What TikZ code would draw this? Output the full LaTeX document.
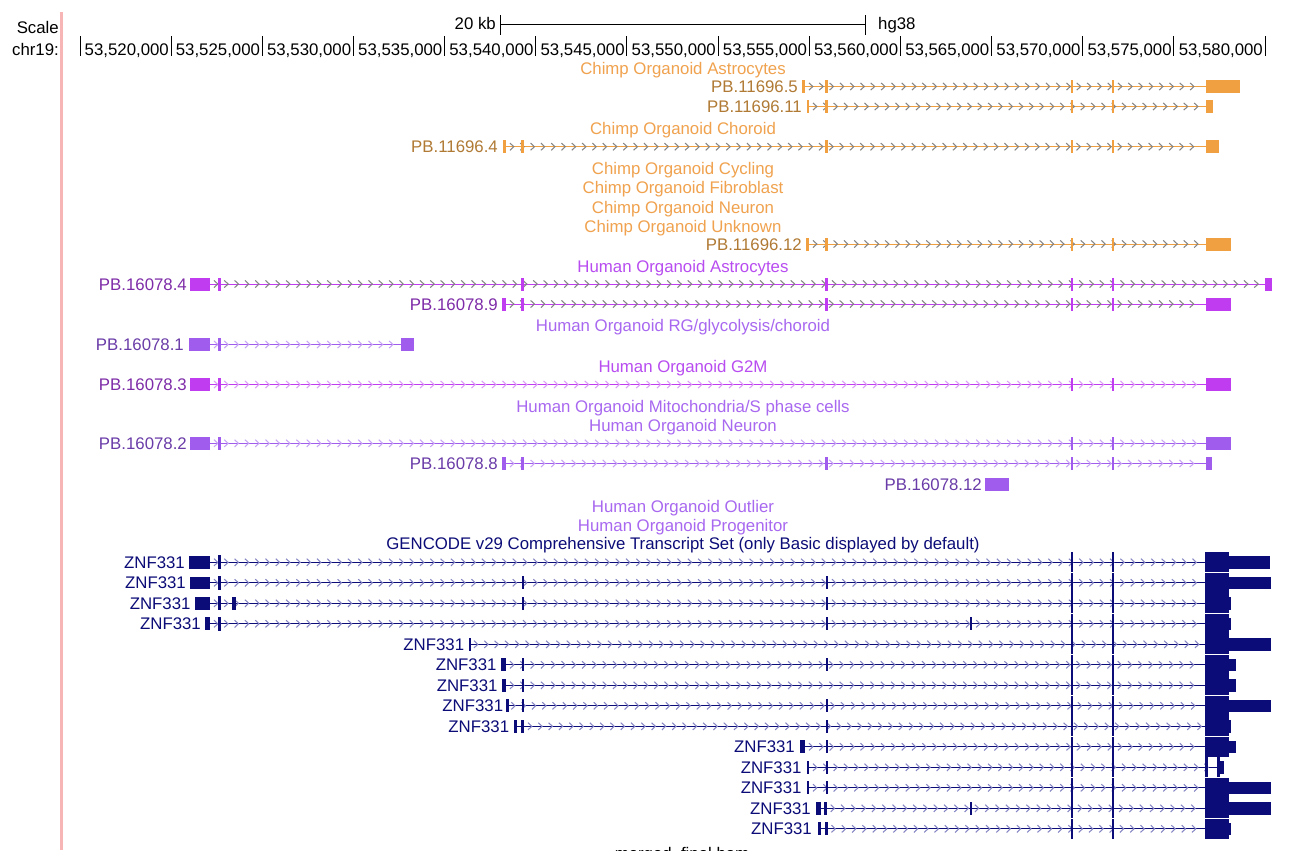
\documentclass[tikz,border=0pt]{standalone}
\usepackage{fontspec}
\setmainfont{Liberation Sans}
\definecolor{chimpT}{HTML}{F0A24E}
\definecolor{chimpF}{HTML}{F0A040}
\definecolor{chimpL}{HTML}{B07A34}
\definecolor{chevgray}{HTML}{858585}
\definecolor{humM}{HTML}{C03CF0}
\definecolor{humMT}{HTML}{B84CF0}
\definecolor{humML}{HTML}{7E2CA8}
\definecolor{humV}{HTML}{A05CEC}
\definecolor{humVT}{HTML}{A868F0}
\definecolor{humVL}{HTML}{6A3CA8}
\definecolor{chevM}{HTML}{DC9CF6}
\definecolor{chevV}{HTML}{C8A4F4}
\definecolor{gc}{HTML}{0C0C78}
\definecolor{chevG}{HTML}{8686C4}
\definecolor{pinkline}{HTML}{F7B5B5}
\newcommand\lblfont{\fontsize{16.8}{19}\selectfont}
% intron line with chevrons: y, x1, x2, line colour, chevron colour
\newcommand\txline[5]{%
  \draw[#4,line width=0.9pt] (#2,#1) -- (#3,#1);
  \pgfmathsetmacro\chA{#2+6}\pgfmathsetmacro\chB{#2+16.3}\pgfmathsetmacro\chC{#3-4}%
  \foreach \cx in {\chA,\chB,...,\chC}{\draw[#5,line width=1.05pt] (\cx-2,#1-3.6) -- (\cx+1.8,#1) -- (\cx-2,#1+3.6);}%
}
% exon box: y, x1, x2, half height, colour
\newcommand\exbox[5]{\fill[#5] (#2,#1-#4) rectangle (#3,#1+#4);}
% thin exon: y, x, half height, colour
\newcommand\extick[4]{\fill[#4] (#2-1.2,#1-#3) rectangle (#2+1.2,#1+#3);}
\begin{document}
\begin{tikzpicture}[x=1pt,y=-1pt,
  lbl/.style={font=\lblfont, inner sep=0pt, anchor=base east},
  ttl/.style={font=\lblfont, inner sep=0pt, anchor=base},
  rul/.style={black, line width=0.9pt}]
\useasboundingbox (0,0) rectangle (1294,860);
\fill[white] (0,0) rectangle (1294,860);
\begin{scope}
\clip (0,0) rectangle (1294,850.5);
% ---------- header ----------
\fill[pinkline] (60.2,12) rectangle (63.2,850);
\node[lbl] (scl) at (59,33) {Scale};
\node[lbl] (chr) at (59,55) {chr19:};
\coordinate (sbA) at (500,24);
\coordinate (sbB) at (865,24);
\draw[rul] (sbA) -- (sbB);
\draw[rul] (500,15) -- (500,35);
\draw[rul] (865,15) -- (865,35);
\node[lbl] (kb) at (496,29) {20 kb};
\node[font=\lblfont, inner sep=0pt, anchor=base west] (hg) at (878,29) {hg38};
\draw[rul] (80,36) -- (80,56);
\foreach \k [evaluate=\k as \xx using 171+91.17*\k, evaluate=\k as \nn using int(520+5*\k)] in {0,...,12}{
  \draw[rul] (\xx,36) -- (\xx,56);
  \node[lbl] (pos\k) at (\xx-2,55) {53,\nn,000};
}
% ---------- chimp ----------
\node[ttl,text=chimpT] (cAst) at (683,74) {Chimp Organoid Astrocytes};
\node[lbl,text=chimpL] (c5) at (798,92.5) {PB.11696.5};
\txline{86.5}{805}{1206}{chimpF}{chevgray}
\exbox{86.5}{801.5}{805}{6.5}{chimpF}
\extick{86.5}{826.5}{6.5}{chimpF}\extick{86.5}{1072}{6.5}{chimpF}\extick{86.5}{1113}{6.5}{chimpF}
\exbox{86.5}{1206}{1240}{6.5}{chimpF}
\node[lbl,text=chimpL] (c11) at (802,112.5) {PB.11696.11};
\txline{106.5}{809}{1206}{chimpF}{chevgray}
\exbox{106.5}{806.5}{809}{6.5}{chimpF}
\extick{106.5}{826.5}{6.5}{chimpF}\extick{106.5}{1072}{6.5}{chimpF}\extick{106.5}{1113}{6.5}{chimpF}
\exbox{106.5}{1206}{1213}{6.5}{chimpF}
\node[ttl,text=chimpT] (cCho) at (683,134.3) {Chimp Organoid Choroid};
\node[lbl,text=chimpL] (c4) at (498,152.7) {PB.11696.4};
\txline{146.7}{506}{1206}{chimpF}{chevgray}
\exbox{146.7}{502.5}{506}{6.5}{chimpF}
\extick{146.7}{522.5}{6.5}{chimpF}\extick{146.7}{826.5}{6.5}{chimpF}\extick{146.7}{1072}{6.5}{chimpF}\extick{146.7}{1113}{6.5}{chimpF}
\exbox{146.7}{1206}{1219}{6.5}{chimpF}
\node[ttl,text=chimpT] (cCyc) at (683,174.3) {Chimp Organoid Cycling};
\node[ttl,text=chimpT] (cFib) at (683,193.7) {Chimp Organoid Fibroblast};
\node[ttl,text=chimpT] (cNeu) at (683,213.3) {Chimp Organoid Neuron};
\node[ttl,text=chimpT] (cUnk) at (683,232.7) {Chimp Organoid Unknown};
\node[lbl,text=chimpL] (c12) at (802,250) {PB.11696.12};
\txline{244}{809}{1206}{chimpF}{chevgray}
\exbox{244}{806}{809}{6.5}{chimpF}
\extick{244}{826.5}{6.5}{chimpF}\extick{244}{1072}{6.5}{chimpF}\extick{244}{1113}{6.5}{chimpF}
\exbox{244}{1206}{1231}{6.5}{chimpF}
% ---------- human ----------
\node[ttl,text=humMT] (hAst) at (683,272) {Human Organoid Astrocytes};
\node[lbl,text=humML] (h4) at (187,290) {PB.16078.4};
\txline{284}{210}{1265}{humM}{chevgray}
\exbox{284}{190}{210}{6.5}{humM}
\extick{284}{219.5}{6.5}{humM}\extick{284}{522.5}{6.5}{humM}\extick{284}{826.5}{6.5}{humM}\extick{284}{1072}{6.5}{humM}\extick{284}{1113}{6.5}{humM}
\exbox{284}{1265}{1272}{6.5}{humM}
\node[lbl,text=humML] (h9) at (498,310) {PB.16078.9};
\txline{304}{506}{1206}{humM}{chevgray}
\exbox{304}{502.3}{506}{6.5}{humM}
\extick{304}{522.5}{6.5}{humM}\extick{304}{826.5}{6.5}{humM}\extick{304}{1072}{6.5}{humM}\extick{304}{1113}{6.5}{humM}
\exbox{304}{1206}{1231}{6.5}{humM}
\node[ttl,text=humVT] (hRG) at (683,331.5) {Human Organoid RG/glycolysis/choroid};
\node[lbl,text=humVL] (h1) at (184,350.5) {PB.16078.1};
\txline{344.5}{210}{401}{humV}{chevV}
\exbox{344.5}{189}{210}{6.5}{humV}
\extick{344.5}{219.5}{6.5}{humV}
\exbox{344.5}{401}{413.7}{6.5}{humV}
\node[ttl,text=humMT] (hG2M) at (683,372) {Human Organoid G2M};
\node[lbl,text=humML] (h3) at (187,390.5) {PB.16078.3};
\txline{384.5}{210}{1206}{humM}{chevM}
\exbox{384.5}{190}{210}{6.5}{humM}
\extick{384.5}{219.5}{6.5}{humM}\extick{384.5}{1072}{6.5}{humM}\extick{384.5}{1113}{6.5}{humM}
\exbox{384.5}{1206}{1231}{6.5}{humM}
\node[ttl,text=humVT] (hMit) at (683,412) {Human Organoid Mitochondria/S phase cells};
\node[ttl,text=humVT] (hNeu) at (683,431.5) {Human Organoid Neuron};
\node[lbl,text=humVL] (h2) at (187,449.3) {PB.16078.2};
\txline{443.3}{210}{1206}{humV}{chevV}
\exbox{443.3}{190}{210}{6.5}{humV}
\extick{443.3}{219.5}{6.5}{humV}\extick{443.3}{1072}{6.5}{humV}\extick{443.3}{1113}{6.5}{humV}
\exbox{443.3}{1206}{1231}{6.5}{humV}
\node[lbl,text=humVL] (h8) at (498,469.5) {PB.16078.8};
\txline{463.5}{506}{1206}{humV}{chevV}
\exbox{463.5}{502}{506}{6.5}{humV}
\extick{463.5}{522.5}{6.5}{humV}\extick{463.5}{826.5}{6.5}{humV}\extick{463.5}{1072}{6.5}{humV}\extick{463.5}{1113}{6.5}{humV}
\exbox{463.5}{1206}{1212}{6.5}{humV}
\node[lbl,text=humVL] (h12) at (982,490.7) {PB.16078.12};
\exbox{484.7}{985}{1009}{6.5}{humV}
\node[ttl,text=humVT] (hOut) at (683,512.5) {Human Organoid Outlier};
\node[ttl,text=humVT] (hPro) at (683,531.3) {Human Organoid Progenitor};
% ---------- GENCODE ----------
\node[ttl,text=gc] (gTitle) at (683,549.5) {GENCODE v29 Comprehensive Transcript Set (only Basic displayed by default)};
% row 1
\node[lbl,text=gc] (g1) at (185,568.3) {ZNF331};
\txline{562.3}{210}{1205}{gc}{chevG}
\exbox{562.3}{189.3}{210}{6.3}{gc}\extick{562.3}{219.3}{7}{gc}
\extick{562.3}{1072}{9.9}{gc}\extick{562.3}{1113}{9.9}{gc}
\exbox{562.3}{1205}{1229}{9.9}{gc}\exbox{562.3}{1229}{1269.5}{6.2}{gc}
% row 2
\node[lbl,text=gc] (g2) at (186,588.8) {ZNF331};
\txline{582.8}{210}{1205}{gc}{chevG}
\exbox{582.8}{190.3}{210}{6.3}{gc}\extick{582.8}{219.3}{7}{gc}
\extick{582.8}{522.7}{6.5}{gc}\extick{582.8}{826.7}{6.5}{gc}
\extick{582.8}{1072}{9.9}{gc}\extick{582.8}{1113}{9.9}{gc}
\exbox{582.8}{1205}{1229}{9.9}{gc}\exbox{582.8}{1229}{1270.5}{6.2}{gc}
% row 3
\node[lbl,text=gc] (g3) at (190.7,609.3) {ZNF331};
\txline{603.3}{210}{1205}{gc}{chevG}
\exbox{603.3}{195.3}{210}{6.3}{gc}\extick{603.3}{219.3}{7}{gc}
\exbox{603.3}{231.7}{236}{6.5}{gc}
\extick{603.3}{522.7}{6.5}{gc}\extick{603.3}{826.7}{6.5}{gc}
\extick{603.3}{1072}{9.9}{gc}\extick{603.3}{1113}{9.9}{gc}
\exbox{603.3}{1205}{1229}{9.9}{gc}\exbox{603.3}{1229}{1230.5}{6.2}{gc}
% row 4
\node[lbl,text=gc] (g4) at (201,629.8) {ZNF331};
\txline{623.8}{210}{1205}{gc}{chevG}
\exbox{623.8}{205.3}{210}{6.5}{gc}\extick{623.8}{219.3}{7}{gc}
\extick{623.8}{826.7}{6.5}{gc}\extick{623.8}{970.7}{6.5}{gc}
\extick{623.8}{1072}{9.9}{gc}\extick{623.8}{1113}{9.9}{gc}
\exbox{623.8}{1205}{1229}{9.9}{gc}\exbox{623.8}{1229}{1230.5}{6.2}{gc}
% row 5
\node[lbl,text=gc] (g5) at (464.3,650.3) {ZNF331};
\txline{644.3}{470}{1205}{gc}{chevG}
\extick{644.3}{470}{6.5}{gc}
\extick{644.3}{1072}{9.9}{gc}\extick{644.3}{1113}{9.9}{gc}
\exbox{644.3}{1205}{1229}{9.9}{gc}\exbox{644.3}{1229}{1270.5}{6.2}{gc}
% row 6
\node[lbl,text=gc] (g6) at (496.7,670.8) {ZNF331};
\txline{664.8}{506}{1205}{gc}{chevG}
\exbox{664.8}{501.3}{506}{6.5}{gc}
\extick{664.8}{522.7}{6.5}{gc}\extick{664.8}{826.7}{6.5}{gc}
\extick{664.8}{1072}{9.9}{gc}\extick{664.8}{1113}{9.9}{gc}
\exbox{664.8}{1205}{1229}{9.9}{gc}\exbox{664.8}{1229}{1235.7}{6.2}{gc}
% row 7
\node[lbl,text=gc] (g7) at (497.7,691.3) {ZNF331};
\txline{685.3}{506}{1205}{gc}{chevG}
\exbox{685.3}{502.3}{506}{6.5}{gc}
\extick{685.3}{522.7}{6.5}{gc}
\extick{685.3}{1072}{9.9}{gc}\extick{685.3}{1113}{9.9}{gc}
\exbox{685.3}{1205}{1229}{9.9}{gc}\exbox{685.3}{1229}{1235.7}{6.2}{gc}
% row 8
\node[lbl,text=gc] (g8) at (503.3,711.8) {ZNF331};
\txline{705.8}{507.3}{1205}{gc}{chevG}
\extick{705.8}{507.3}{6.5}{gc}
\extick{705.8}{522.7}{6.5}{gc}\extick{705.8}{826.7}{6.5}{gc}
\extick{705.8}{1072}{9.9}{gc}\extick{705.8}{1113}{9.9}{gc}
\exbox{705.8}{1205}{1229}{9.9}{gc}\exbox{705.8}{1229}{1270.5}{6.2}{gc}
% row 9
\node[lbl,text=gc] (g9) at (509.3,732.3) {ZNF331};
\txline{726.3}{524}{1205}{gc}{chevG}
\exbox{726.3}{514.3}{517.3}{6.5}{gc}\exbox{726.3}{521}{524}{6.5}{gc}
\draw[gc,line width=0.9pt] (517.3,726.3) -- (521,726.3);
\extick{726.3}{826.7}{6.5}{gc}
\extick{726.3}{1072}{9.9}{gc}\extick{726.3}{1113}{9.9}{gc}
\exbox{726.3}{1205}{1229}{9.9}{gc}\exbox{726.3}{1229}{1230.5}{6.2}{gc}
% row 10
\node[lbl,text=gc] (g10) at (795,752.8) {ZNF331};
\txline{746.8}{805}{1205}{gc}{chevG}
\exbox{746.8}{800.3}{805}{6.5}{gc}
\extick{746.8}{826.7}{6.5}{gc}
\extick{746.8}{1072}{9.9}{gc}\extick{746.8}{1113}{9.9}{gc}
\exbox{746.8}{1205}{1229}{9.9}{gc}\exbox{746.8}{1229}{1235.7}{6.2}{gc}
% row 11
\node[lbl,text=gc] (g11) at (801.7,773.3) {ZNF331};
\txline{767.3}{809}{1217}{gc}{chevG}
\exbox{767.3}{806.7}{809}{6.5}{gc}
\extick{767.3}{826.7}{6.5}{gc}
\extick{767.3}{1072}{9.9}{gc}\extick{767.3}{1113}{9.9}{gc}
\exbox{767.3}{1205}{1208}{9.9}{gc}\exbox{767.3}{1217}{1220}{9.9}{gc}\exbox{767.3}{1220}{1224}{6.2}{gc}
% row 12
\node[lbl,text=gc] (g12) at (801.7,793.8) {ZNF331};
\txline{787.8}{809}{1205}{gc}{chevG}
\exbox{787.8}{806.7}{809}{6.5}{gc}
\extick{787.8}{826.7}{6.5}{gc}
\extick{787.8}{1072}{9.9}{gc}\extick{787.8}{1113}{9.9}{gc}
\exbox{787.8}{1205}{1229}{9.9}{gc}\exbox{787.8}{1229}{1270.5}{6.2}{gc}
% row 13
\node[lbl,text=gc] (g13) at (811,814.3) {ZNF331};
\txline{808.3}{826.7}{1205}{gc}{chevG}
\exbox{808.3}{815.7}{821}{6.5}{gc}\exbox{808.3}{823.5}{826.7}{6.5}{gc}
\draw[gc,line width=0.9pt] (821,808.3) -- (823.5,808.3);
\extick{808.3}{970.7}{6.5}{gc}
\extick{808.3}{1072}{9.9}{gc}\extick{808.3}{1113}{9.9}{gc}
\exbox{808.3}{1205}{1229}{9.9}{gc}\exbox{808.3}{1229}{1270.5}{6.2}{gc}
% row 14
\node[lbl,text=gc] (g14) at (812,834.8) {ZNF331};
\txline{828.8}{827.5}{1205}{gc}{chevG}
\exbox{828.8}{817.7}{821}{6.5}{gc}\exbox{828.8}{825}{827.5}{6.5}{gc}
\draw[gc,line width=0.9pt] (821,828.8) -- (825,828.8);
\extick{828.8}{1072}{9.9}{gc}\extick{828.8}{1113}{9.9}{gc}
\exbox{828.8}{1205}{1229}{9.9}{gc}\exbox{828.8}{1229}{1230.5}{6.2}{gc}
% bottom track title, cut by the window edge
\node[ttl,text=black] (bam) at (682,859) {merged\_final.bam};
\end{scope}
\end{tikzpicture}
\end{document}
